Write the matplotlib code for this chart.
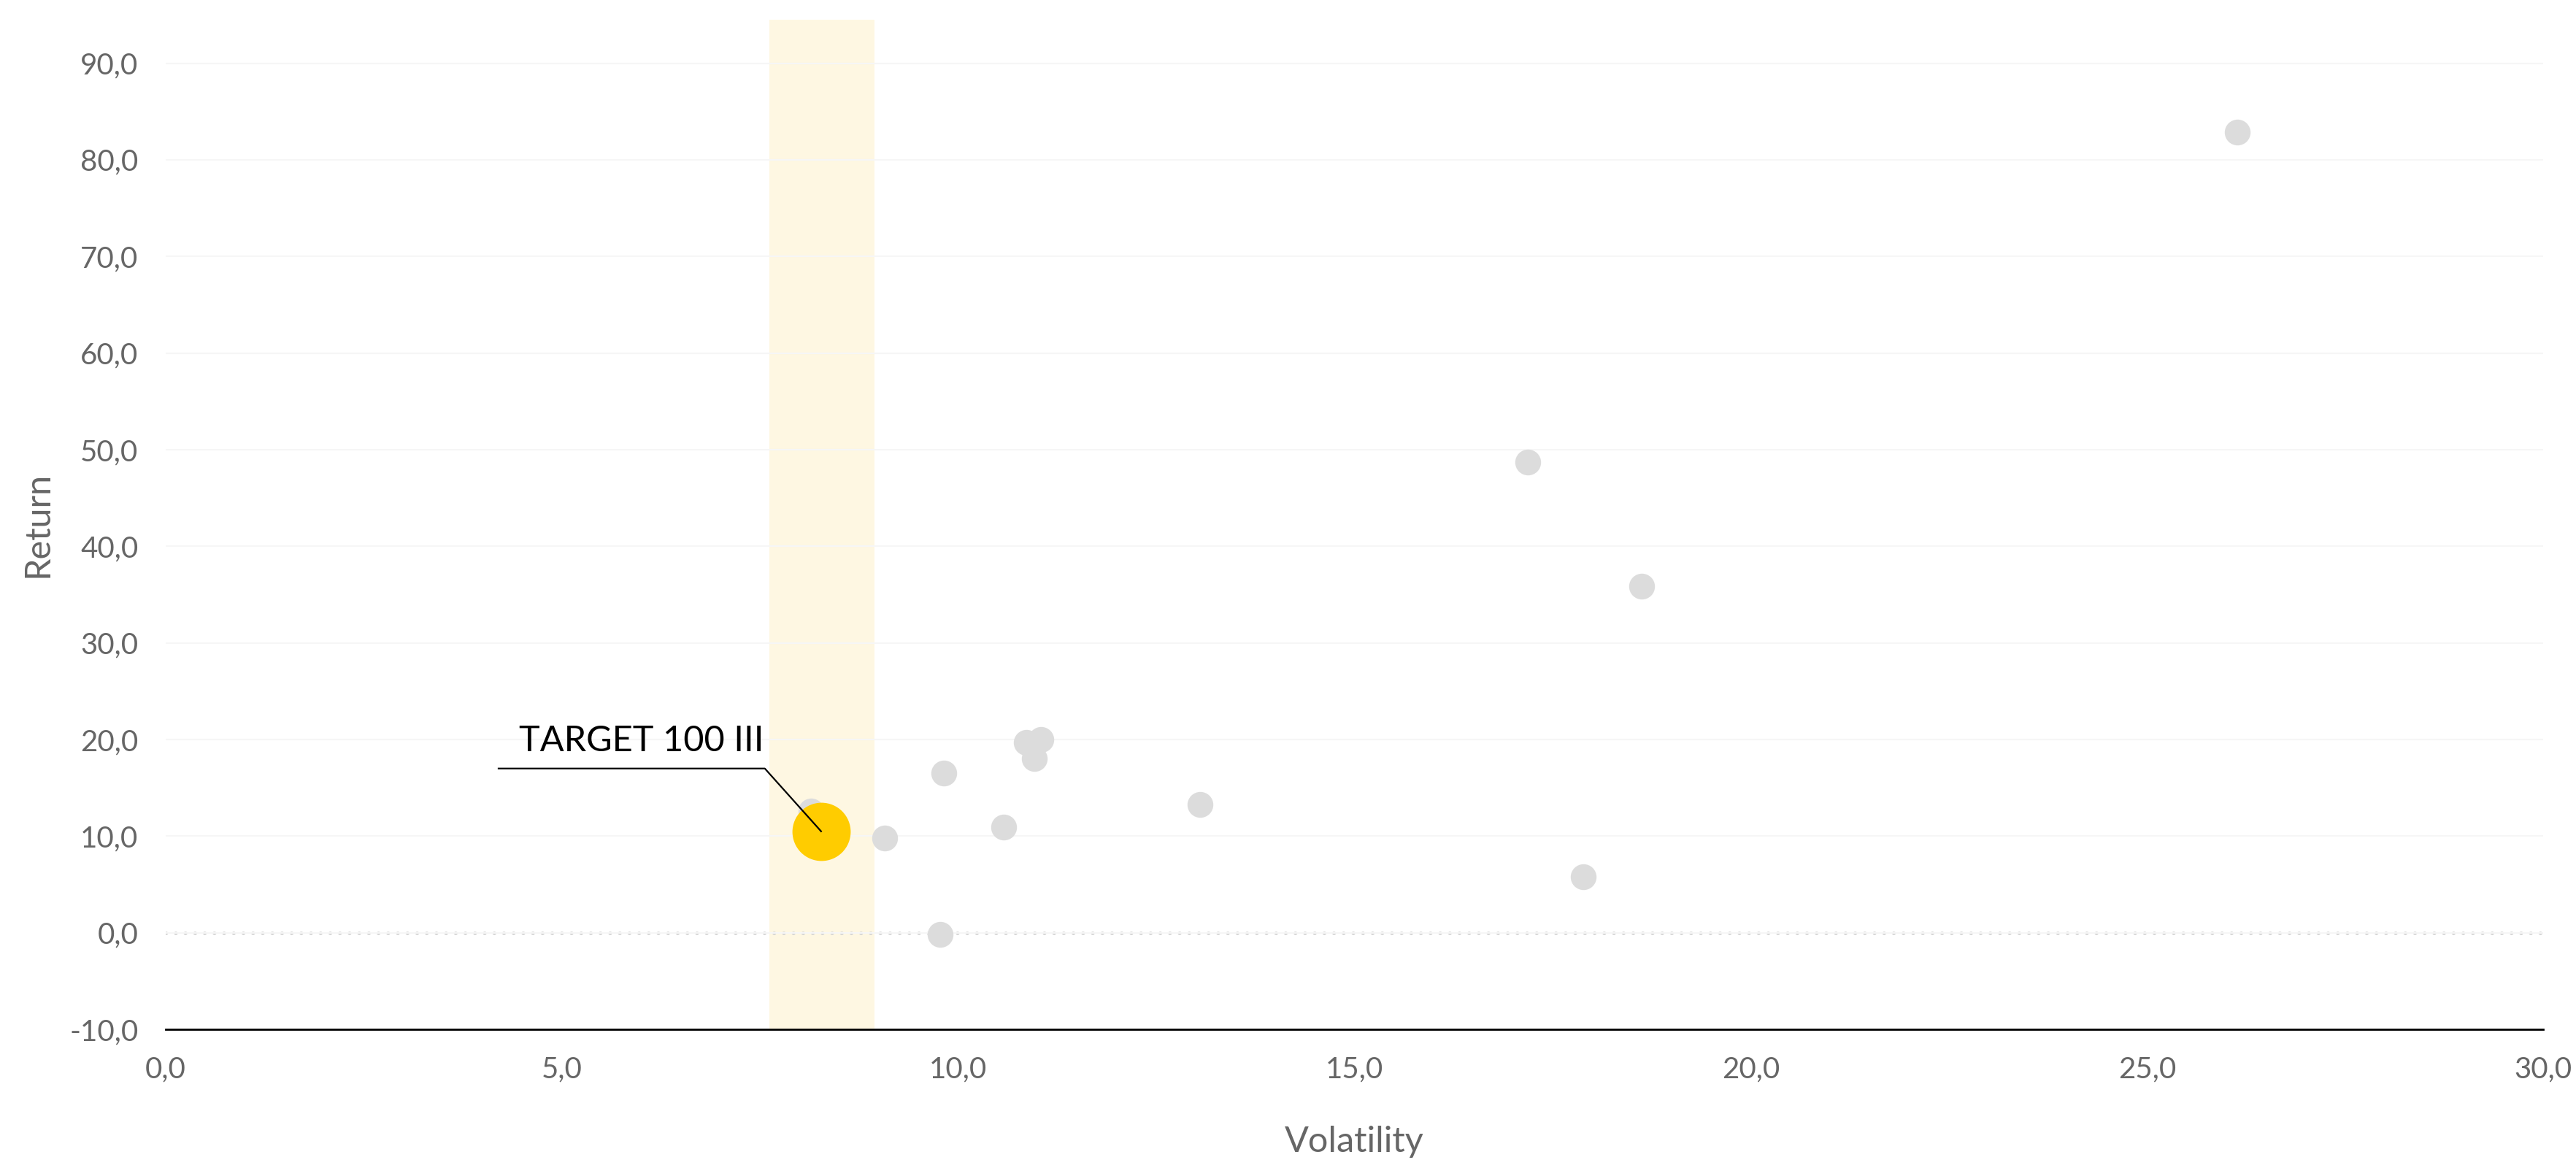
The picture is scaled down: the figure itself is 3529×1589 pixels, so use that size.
import matplotlib
matplotlib.use("Agg")
import matplotlib.pyplot as plt
from matplotlib.ticker import FuncFormatter, MultipleLocator

plt.rcParams['font.family'] = ['Lato', 'DejaVu Sans']

# peer funds (volatility, return)
peer_vol = [8.14, 9.07, 9.82, 9.77, 10.57, 10.86, 11.04, 10.96, 13.05, 17.19, 17.89, 18.62, 26.14]
peer_ret = [12.6, 9.8, 16.5, -0.2, 10.9, 19.7, 20.0, 18.0, 13.3, 48.7, 5.8, 35.9, 82.9]

# highlighted fund
target_name = "TARGET 100 III"
target_vol = 8.27
target_ret = 10.5

# volatility band around the target
band_lo = 7.62
band_hi = 8.94

GREY = "#dcdcdc"
YELLOW = "#ffcc00"
BAND = "#fef7e2"
TXT = "#666666"

fig = plt.figure(figsize=(35.3, 15.89), dpi=100)
ax = fig.add_axes([0.0643, 0.1126, 0.9227, 0.8704])

ax.set_xlim(0, 30)
ax.set_ylim(-10, 94.5)

ax.axvspan(band_lo, band_hi, color=BAND, zorder=0, lw=0)

ax.yaxis.set_major_locator(MultipleLocator(10))
ax.xaxis.set_major_locator(MultipleLocator(5))
ax.grid(axis="y", color="#f6f6f6", lw=1.5, zorder=0.5)
ax.grid(axis="x", visible=False)

# dotted zero line
ax.axhline(0, color="#d2d2d2", lw=3.4, ls=(0, (0.1, 2.7)), dash_capstyle="round", zorder=1)

ax.scatter(peer_vol, peer_ret, s=650, color=GREY, lw=0, zorder=2)
ax.scatter([target_vol], [target_ret], s=3300, color=YELLOW, lw=0, zorder=3)

# label with underline and leader line
lx0, lx1, ly = target_vol - 4.07, target_vol - 0.71, target_ret + 6.5
ax.plot([lx0, lx1, target_vol], [ly, ly, target_ret], color="black", lw=1.6, zorder=4)
ax.text((lx0 + lx1) / 2 + 0.12, ly + 1.2, target_name, ha="center", va="bottom",
        fontsize=35, color="black", zorder=4)

fmt = FuncFormatter(lambda v, p: f"{v:.1f}".replace(".", ","))
ax.xaxis.set_major_formatter(fmt)
ax.yaxis.set_major_formatter(fmt)
ax.tick_params(axis="both", length=0, labelsize=29, colors=TXT)
ax.tick_params(axis="y", pad=27)
ax.tick_params(axis="x", pad=26)

for s in ["top", "right", "left"]:
    ax.spines[s].set_visible(False)
ax.spines["bottom"].set_color("black")
ax.spines["bottom"].set_linewidth(2)

ax.set_xlabel("Volatility", fontsize=35, color=TXT, labelpad=42)
ax.set_ylabel("Return", fontsize=35, color=TXT, labelpad=16)

fig.savefig("out.png", dpi=100, facecolor="white")
